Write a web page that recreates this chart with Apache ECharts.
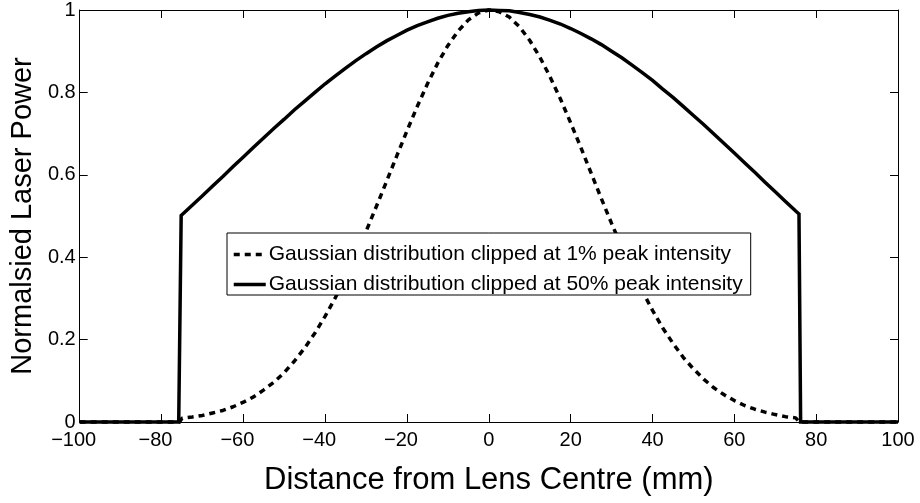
<!DOCTYPE html>
<html>
<head>
<meta charset="utf-8">
<script src="https://cdn.jsdelivr.net/npm/echarts@6/dist/echarts.min.js"></script>
<style>
  html, body { margin: 0; padding: 0; background: #fff; overflow: hidden; }
  #chart { width: 920px; height: 503px; }
</style>
</head>
<body>
<div id="chart"></div>
<script>
// Beam profiles across the lens (distance in mm, power normalised to the peak)
const clip1Name = 'Gaussian distribution clipped at 1% peak intensity';
const clip50Name = 'Gaussian distribution clipped at 50% peak intensity';

const clip1X = [-100, -75.6, -75, -72.5, -70, -67.5, -65, -62.5, -60, -57.5, -55, -52.5, -50,
  -47.5, -45, -42.5, -40, -37.5, -35, -32.5, -30, -27.5, -25, -22.5, -20, -17.5, -15, -12.5,
  -10, -7.5, -5, -2.5, 0, 2.5, 5, 7.5, 10, 12.5, 15, 17.5, 20, 22.5, 25, 27.5, 30, 32.5, 35,
  37.5, 40, 42.5, 45, 47.5, 50, 52.5, 55, 57.5, 60, 62.5, 65, 67.5, 70, 72.5, 75, 75.9, 100];
const clip1Power = [0, 0, 0.009, 0.012, 0.016, 0.022, 0.028, 0.037, 0.048, 0.061, 0.078, 0.097, 0.120,
  0.148, 0.180, 0.216, 0.257, 0.302, 0.352, 0.406, 0.463, 0.523, 0.584, 0.646, 0.707, 0.766, 0.821, 0.871,
  0.914, 0.949, 0.976, 0.993, 1.000, 0.996, 0.983, 0.959, 0.926, 0.885, 0.837, 0.784, 0.726, 0.666, 0.604,
  0.542, 0.482, 0.424, 0.369, 0.318, 0.271, 0.228, 0.191, 0.157, 0.129, 0.104, 0.083, 0.066, 0.052, 0.040,
  0.031, 0.024, 0.018, 0.013, 0.010, 0, 0];

const clip50X = [-100, -75.8, -75.2, -72.5, -70, -67.5, -65, -62.5, -60, -57.5, -55, -52.5, -50,
  -47.5, -45, -42.5, -40, -37.5, -35, -32.5, -30, -27.5, -25, -22.5, -20, -17.5, -15, -12.5,
  -10, -7.5, -5, -2.5, 0, 2.5, 5, 7.5, 10, 12.5, 15, 17.5, 20, 22.5, 25, 27.5, 30, 32.5, 35,
  37.5, 40, 42.5, 45, 47.5, 50, 52.5, 55, 57.5, 60, 62.5, 65, 67.5, 70, 72.5, 75, 75.8, 76.2, 100];
const clip50Power = [0, 0, 0.501, 0.526, 0.549, 0.573, 0.596, 0.620, 0.643, 0.667, 0.690, 0.713, 0.735,
  0.758, 0.779, 0.800, 0.821, 0.840, 0.859, 0.877, 0.894, 0.910, 0.925, 0.938, 0.951, 0.962, 0.971, 0.980,
  0.987, 0.992, 0.996, 0.999, 1.000, 0.999, 0.998, 0.994, 0.989, 0.983, 0.975, 0.966, 0.955, 0.943, 0.930,
  0.916, 0.900, 0.884, 0.866, 0.848, 0.829, 0.808, 0.788, 0.766, 0.744, 0.722, 0.699, 0.676, 0.653, 0.629,
  0.606, 0.582, 0.559, 0.535, 0.512, 0.505, 0, 0];

// Axis ticks and their printed labels
const xTickValues = [-100, -80, -60, -40, -20, 0, 20, 40, 60, 80, 100];
const xTickLabels = ['\u2212100', '\u221280', '\u221260', '\u221240', '\u221220', '0', '20', '40', '60', '80', '100'];
const yTickValues = [0, 0.2, 0.4, 0.6, 0.8, 1];
const yTickLabels = ['0', '0.2', '0.4', '0.6', '0.8', '1'];

const pairs = (xs, ys) => xs.map((x, i) => [x, ys[i]]);
const FONT = '"Liberation Sans", Arial, Helvetica, sans-serif';

function xLabel(v) {
  const i = xTickValues.findIndex(t => Math.abs(t - v) < 1e-6);
  const s = i >= 0 ? xTickLabels[i] : String(v);
  // minus sign hangs to the left so the digits sit centred on the tick
  return v < 0 ? '{n|' + s + '}' : s;
}
function yLabel(v) {
  const i = yTickValues.findIndex(t => Math.abs(t - v) < 1e-6);
  return i >= 0 ? yTickLabels[i] : String(v);
}

const boxLine = { show: true, onZero: false, lineStyle: { color: '#000', width: 1 } };
const inTick = len => ({ show: true, inside: true, length: len, lineStyle: { color: '#000', width: 1 } });

const chart = echarts.init(document.getElementById('chart'), null, { renderer: 'canvas' });
chart.setOption({
  animation: false,
  backgroundColor: '#fff',
  grid: { left: 79, right: 22, top: 8, bottom: 81, containLabel: false },
  legend: {
    left: 227,
    top: 233,
    orient: 'vertical',
    itemWidth: 32,
    itemHeight: 18,
    itemGap: 9,
    padding: [11, 8, 0, 5],
    backgroundColor: '#fff',
    borderColor: '#000',
    borderWidth: 1,
    borderRadius: 0,
    itemStyle: { color: 'rgba(0,0,0,0)', borderWidth: 0, opacity: 0 },
    lineStyle: { width: 3.5 },
    textStyle: { fontFamily: FONT, fontSize: 21, lineHeight: 18, color: '#000', padding: [0, 0, 0, -2] },
    data: [clip1Name, clip50Name]
  },
  xAxis: [
    {
      type: 'value', min: -100, max: 100, interval: 20, position: 'bottom',
      axisLine: boxLine, axisTick: inTick(8), splitLine: { show: false },
      axisLabel: {
        margin: 8, fontFamily: FONT, fontSize: 20, color: '#000', formatter: xLabel,
        rich: { n: { fontFamily: FONT, fontSize: 20, color: '#000', padding: [0, 12, 0, 0] } }
      },
      name: 'Distance from Lens Centre (mm)', nameLocation: 'middle', nameGap: 43,
      nameTextStyle: { fontFamily: FONT, fontSize: 31, color: '#000' }
    },
    {
      type: 'value', min: -100, max: 100, interval: 20, position: 'top',
      axisLine: boxLine, axisTick: inTick(8), axisLabel: { show: false }, splitLine: { show: false }
    }
  ],
  yAxis: [
    {
      type: 'value', min: 0, max: 1, interval: 0.2, position: 'left',
      axisLine: boxLine, axisTick: inTick(8), splitLine: { show: false },
      axisLabel: { margin: 4, fontFamily: FONT, fontSize: 20, color: '#000', formatter: yLabel },
      name: 'Normalsied Laser Power', nameLocation: 'middle', nameGap: 38,
      nameTextStyle: { fontFamily: FONT, fontSize: 29, color: '#000' }
    },
    {
      type: 'value', min: 0, max: 1, interval: 0.2, position: 'right',
      axisLine: boxLine, axisTick: inTick(8), axisLabel: { show: false }, splitLine: { show: false }
    }
  ],
  series: [
    {
      name: clip1Name, type: 'line', xAxisIndex: 0, yAxisIndex: 0,
      data: pairs(clip1X, clip1Power), showSymbol: false, symbol: 'none', clip: false,
      lineStyle: { color: '#000', width: 3.5, type: [6, 5], cap: 'butt' },
      itemStyle: { color: '#000' }, z: 3
    },
    {
      name: clip50Name, type: 'line', xAxisIndex: 0, yAxisIndex: 0,
      data: pairs(clip50X, clip50Power), showSymbol: false, symbol: 'none', clip: false,
      lineStyle: { color: '#000', width: 3.5, type: 'solid', join: 'miter' },
      itemStyle: { color: '#000' }, z: 4
    }
  ]
});
</script>
</body>
</html>
